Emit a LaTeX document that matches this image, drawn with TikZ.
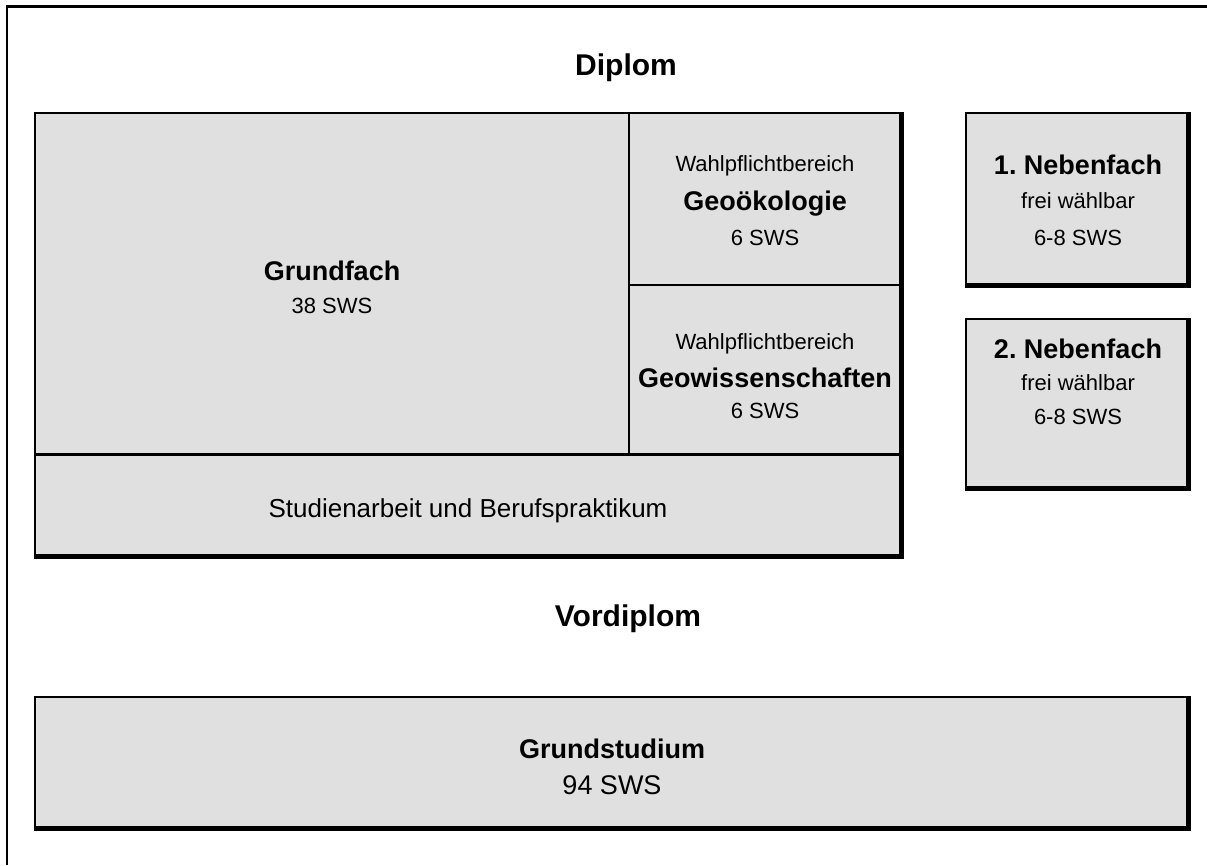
\documentclass[tikz,border=0pt]{standalone}
\usepackage{fontspec}
\setmainfont{Liberation Sans}
\definecolor{boxgray}{RGB}{224,224,224}
\frenchspacing

\begin{document}
\begin{tikzpicture}[x=1pt,y=-1pt,
  head/.style={anchor=base,font=\fontsize{30}{36}\selectfont\bfseries},
  title/.style={anchor=base,font=\fontsize{27}{32}\selectfont\bfseries},
  small/.style={anchor=base,font=\fontsize{22}{26}\selectfont},
  large/.style={anchor=base,font=\fontsize{27}{32}\selectfont}]
\useasboundingbox (0,0) rectangle (1207,865);
\draw[line width=2.5pt] (7,865) -- (7,6.5) -- (1207,6.5);

\foreach \xa/\ya/\xb/\yb in {35/113/901/556, 966/113/1188/285, 966/319/1188/488, 35/697/1188/828}{
  \fill[boxgray] (\xa,\ya) rectangle (\xb,\yb);
  \draw[line width=2pt] (\xb,\ya) -- (\xa,\ya) -- (\xa,\yb);
  \draw[line width=5pt] (\xb,\ya-1) -- (\xb,\yb) -- (\xa-1,\yb);
}
\draw[line width=2pt] (629,113) -- (629,454);
\draw[line width=2pt] (629,285) -- (901,285);
\draw[line width=3pt] (35,454) -- (901,454);

\node[head] (diplom) at (626,75) {Diplom};
\node[head] (vordiplom) at (628,626) {Vordiplom};

\node[title] (grundfach) at (332,280) {Grundfach};
\node[small] (grundfachsws) at (332,313) {38 SWS};

\node[small] (wahl1) at (765,171) {Wahlpflichtbereich};
\node[title] (geooek) at (765,210) {Geoökologie};
\node[small] (geooeksws) at (765,245) {6 SWS};

\node[small] (wahl2) at (765,349) {Wahlpflichtbereich};
\node[title] (geowiss) at (765,387) {Geowissenschaften};
\node[small] (geowisssws) at (765,418) {6 SWS};

\node[title] (neben1) at (1078,174) {1. Nebenfach};
\node[small] (frei1) at (1078,208) {frei wählbar};
\node[small] (neben1sws) at (1078,245) {6-8 SWS};

\node[title] (neben2) at (1078,358) {2. Nebenfach};
\node[small] (frei2) at (1078,390) {frei wählbar};
\node[small] (neben2sws) at (1078,424) {6-8 SWS};

\node[large,font=\fontsize{26}{31}\selectfont] (studienarbeit) at (468,517) {Studienarbeit und Berufspraktikum};

\node[title] (grundstudium) at (612,758) {Grundstudium};
\node[large] (grundstudiumsws) at (612,794) {94 SWS};
\end{tikzpicture}
\end{document}
